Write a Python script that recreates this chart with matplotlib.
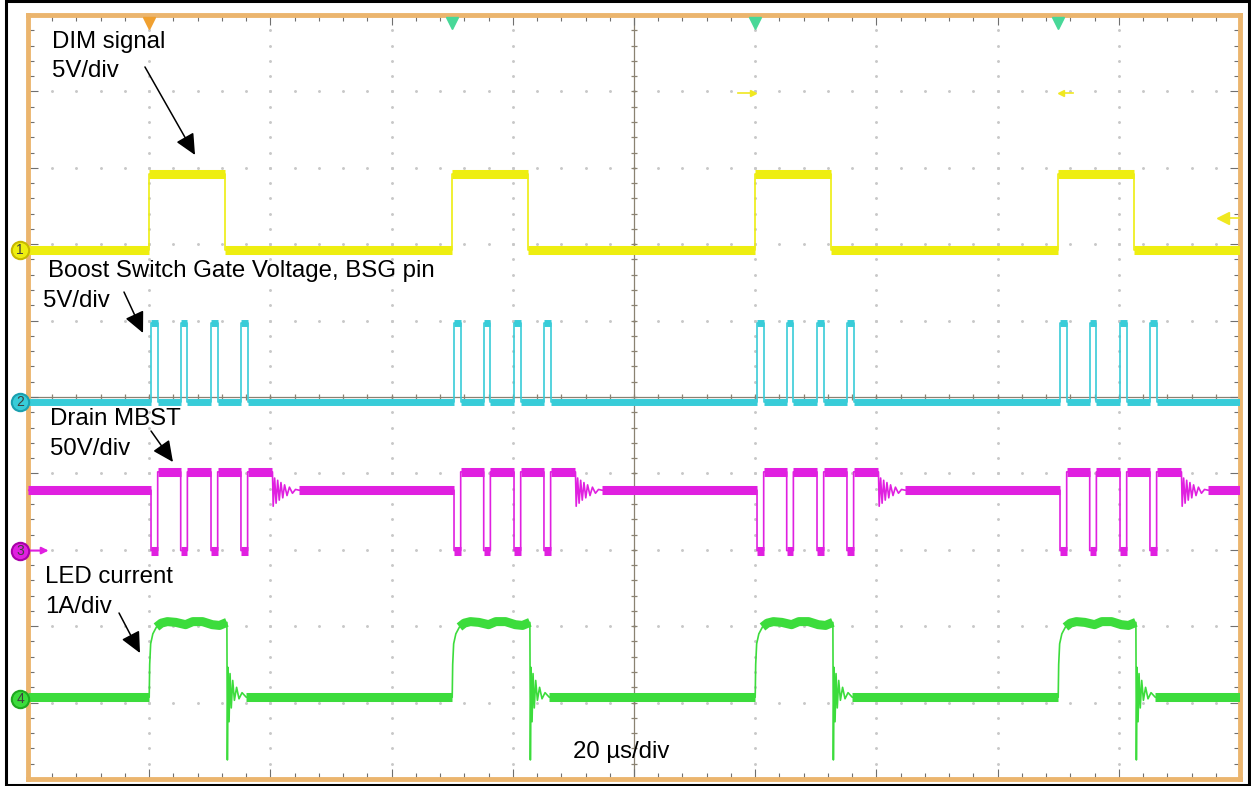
import matplotlib.pyplot as plt
import numpy as np
from matplotlib.patches import Rectangle

plt.rcParams['font.family'] = ['Liberation Sans', 'DejaVu Sans']

W, H = 1251, 786
# graticule box on the screen (pixels)
X0, X1, Y0, Y1 = 28, 1240, 15, 779

# everything below is in scope divisions (10 x 10 graticule)
ch_ref = [6.92, 4.94, 2.99, 1.05]          # channel 1..4 ground markers
ch_colors = ['#EEEE10', '#38CCD8', '#E020E0', '#3CDC3C']
ch_edges = ['#C8B800', '#1AA0B0', '#A800A8', '#20A820']

# DIM signal (ch1)
dim_rise = [1.0, 3.5, 6.0, 8.5]
dim_width = 0.627
dim_low, dim_high = 0.0, 1.0

# boost switch gate (ch2), pulses relative to each DIM rise
bsg_offsets = [0.015, 0.26, 0.51, 0.757]
bsg_width = 0.055
bsg_low, bsg_high = 0.0, 1.03

# drain MBST (ch3)
drain_base, drain_high, drain_low = 0.79, 1.03, 0.0
drain_high_end = 1.017
drain_ring_dt = [0.0, 0.006, 0.018, 0.03, 0.043, 0.056, 0.07, 0.085, 0.1, 0.12, 0.14, 0.165, 0.19, 0.22]
drain_ring_v = [1.03, 0.58, 0.95, 0.62, 0.92, 0.66, 0.89, 0.69, 0.86, 0.72, 0.83, 0.75, 0.80, 0.79]

# LED current (ch4)
led_base = 0.02
led_rise_dt = [0.0, 0.004, 0.012, 0.03, 0.06, 0.1, 0.15, 0.22, 0.3, 0.36, 0.44, 0.52, 0.58, 0.641]
led_rise_v = [0.02, 0.45, 0.72, 0.85, 0.94, 0.99, 1.01, 1.0, 0.97, 1.01, 1.01, 0.97, 0.96, 1.0]
led_ring_dt = [0.0, 0.004, 0.01, 0.018, 0.026, 0.036, 0.048, 0.062, 0.08, 0.1, 0.125, 0.16]
led_ring_v = [1.0, -0.80, 0.41, -0.30, 0.33, -0.12, 0.24, -0.02, 0.15, 0.0, 0.08, 0.02]
led_fall = 0.641


def add_flat(xs, ys, flats, t0, t1, v):
    xs += [t0, t1]
    ys += [v, v]
    flats.append((t0, t1, v))


# --- build traces ---
dim_x, dim_y, dim_f = [], [], []
t = 0.0
for r in dim_rise:
    add_flat(dim_x, dim_y, dim_f, t, r, dim_low)
    add_flat(dim_x, dim_y, dim_f, r, r + dim_width, dim_high)
    t = r + dim_width
add_flat(dim_x, dim_y, dim_f, t, 10, dim_low)

bsg_x, bsg_y, bsg_f = [], [], []
t = 0.0
for r in dim_rise:
    for off in bsg_offsets:
        add_flat(bsg_x, bsg_y, bsg_f, t, r + off, bsg_low)
        add_flat(bsg_x, bsg_y, bsg_f, r + off, r + off + bsg_width, bsg_high)
        t = r + off + bsg_width
add_flat(bsg_x, bsg_y, bsg_f, t, 10, bsg_low)

dr_x, dr_y, dr_f = [], [], []
t = 0.0
for r in dim_rise:
    add_flat(dr_x, dr_y, dr_f, t, r + bsg_offsets[0], drain_base)
    for i, off in enumerate(bsg_offsets):
        add_flat(dr_x, dr_y, dr_f, r + off, r + off + bsg_width, drain_low)
        end = r + bsg_offsets[i + 1] if i < len(bsg_offsets) - 1 else r + drain_high_end
        add_flat(dr_x, dr_y, dr_f, r + off + bsg_width, end, drain_high)
    dr_x += [r + drain_high_end + d for d in drain_ring_dt]
    dr_y += drain_ring_v
    t = r + drain_high_end + drain_ring_dt[-1]
add_flat(dr_x, dr_y, dr_f, t, 10, drain_base)

led_x, led_y, led_f = [], [], []
led_plateaus = []
t = 0.0
for r in dim_rise:
    add_flat(led_x, led_y, led_f, t, r, led_base)
    led_x += [r + d for d in led_rise_dt]
    led_y += led_rise_v
    led_plateaus.append(([r + d for d in led_rise_dt[4:]], led_rise_v[4:]))
    led_x += [r + led_fall + d for d in led_ring_dt]
    led_y += led_ring_v
    t = r + led_fall + led_ring_dt[-1]
add_flat(led_x, led_y, led_f, t, 10, led_base)

# --- figure ---
fig = plt.figure(figsize=(W / 100, H / 100), dpi=100)
ax = fig.add_axes([X0 / W, 1 - Y1 / H, (X1 - X0) / W, (Y1 - Y0) / H])
ax.set_xlim(0, 10)
ax.set_ylim(0, 10)

# graticule
minor = np.arange(0.2, 10, 0.2)
for g in [1, 2, 3, 4, 6, 7, 8, 9]:
    ax.plot(np.full_like(minor, g), minor, ls='none', marker='.', ms=2.2, color='#c8c8c8', zorder=1)
    ax.plot(minor, np.full_like(minor, g), ls='none', marker='.', ms=2.2, color='#c8c8c8', zorder=1)
ax.axvline(5, color='#8a8272', lw=0.9, zorder=1)
ax.axhline(5, color='#8a8272', lw=0.9, zorder=1)
ax.plot(np.full_like(minor, 5), minor, ls='none', marker='_', ms=5, mew=0.9, color='#8a8272', zorder=1)
ax.plot(minor, np.full_like(minor, 5), ls='none', marker='|', ms=5, mew=0.9, color='#8a8272', zorder=1)

ax.set_xticks(range(11))
ax.set_yticks(range(11))
ax.set_xticks(np.arange(0, 10.01, 0.2), minor=True)
ax.set_yticks(np.arange(0, 10.01, 0.2), minor=True)
ax.tick_params(which='both', direction='in', top=True, right=True,
               labelbottom=False, labelleft=False, color='#707070', width=0.8)
ax.tick_params(which='major', length=7)
ax.tick_params(which='minor', length=4)
for s in ax.spines.values():
    s.set_color('#EBB56E')
    s.set_linewidth(3.5)

# traces: thin line for edges, thick band for the noisy flat levels
traces = [(dim_x, dim_y, dim_f, 6.5), (bsg_x, bsg_y, bsg_f, 5.0),
          (dr_x, dr_y, dr_f, 6.5), (led_x, led_y, led_f, 6.5)]
for i, (xs, ys, fl, band) in enumerate(traces):
    ref = ch_ref[i]
    c = ch_colors[i]
    ax.plot(xs, np.array(ys) + ref, color=c, lw=1.2, zorder=3)
    for t0, t1, v in fl:
        if t1 - t0 > 0.03:
            ax.hlines(v + ref, t0, t1, color=c, lw=band, zorder=3)
for px_, py_ in led_plateaus:
    ax.plot(px_, np.array(py_) + ch_ref[3], color=ch_colors[3], lw=6.5, zorder=3,
            solid_capstyle='butt')

# channel ground markers
for i, ref in enumerate(ch_ref):
    ax.plot(-0.066, ref, marker='o', ms=12.5, mfc=ch_colors[i], mec=ch_edges[i], mew=1.5,
            clip_on=False, zorder=6)
    ax.text(-0.066, ref, str(i + 1), ha='center', va='center', fontsize=10,
            color='#404040', zorder=7, clip_on=False)
ax.annotate('', xy=(0.17, ch_ref[2]), xytext=(0.0, ch_ref[2]),
            arrowprops=dict(arrowstyle='-|>', color=ch_colors[2], lw=1.5, mutation_scale=10,
                            shrinkA=0, shrinkB=0), zorder=5)

# trigger / position markers at the top
ax.plot(dim_rise[0], 9.9, marker='v', ms=9, color='#F0A030', clip_on=False, zorder=6)
ax.plot(dim_rise[1:], [9.9] * 3, ls='none', marker='v', ms=9, color='#48D898', clip_on=False, zorder=6)
ax.plot([5.86, 5.98], [8.98, 8.98], color='#F0E820', lw=1.2, zorder=4)
ax.plot(5.98, 8.98, marker='>', ms=5, color='#F0E820', zorder=4)
ax.plot([8.52, 8.62], [8.98, 8.98], color='#F0E820', lw=1.2, zorder=4)
ax.plot(8.52, 8.98, marker='<', ms=5, color='#F0E820', zorder=4)
ax.plot([9.84, 10], [7.34, 7.34], color='#F0E820', lw=1.2, zorder=4)
ax.plot(9.86, 7.34, marker='<', ms=8, color='#F0E820', zorder=4)

# labels and arrows
labels = [
    ('DIM signal', 0.198, 9.568), ('5V/div', 0.198, 9.188),
    ('Boost Switch Gate Voltage, BSG pin', 0.165, 6.571), ('5V/div', 0.124, 6.178),
    ('Drain MBST', 0.182, 4.634), ('50V/div', 0.182, 4.241),
    ('LED current', 0.14, 2.565), ('1A/div', 0.14, 2.173),
    ('20 µs/div', 4.497, 0.275),
]
for txt, x, y in labels:
    ax.text(x, y, txt, fontsize=17.3, ha='left', va='baseline', color='black', zorder=8)

arrows = [((0.965, 9.32), (1.378, 8.168)), ((0.792, 6.374), (0.949, 5.838)),
          ((1.015, 4.555), (1.196, 4.149)), ((0.751, 2.173), (0.924, 1.649))]
for tail, tip in arrows:
    ax.annotate('', xy=tip, xytext=tail,
                arrowprops=dict(arrowstyle='-|>,head_length=0.8,head_width=0.38', color='black',
                                lw=1.1, mutation_scale=16, shrinkA=0, shrinkB=0), zorder=8)

# outer black frame of the screenshot
fig.add_artist(Rectangle((6 / W, 1 / H), (1249 - 6) / W, (785 - 1) / H, transform=fig.transFigure,
                         fill=False, edgecolor='black', lw=2.2))

fig.savefig('out.png', dpi=100)
